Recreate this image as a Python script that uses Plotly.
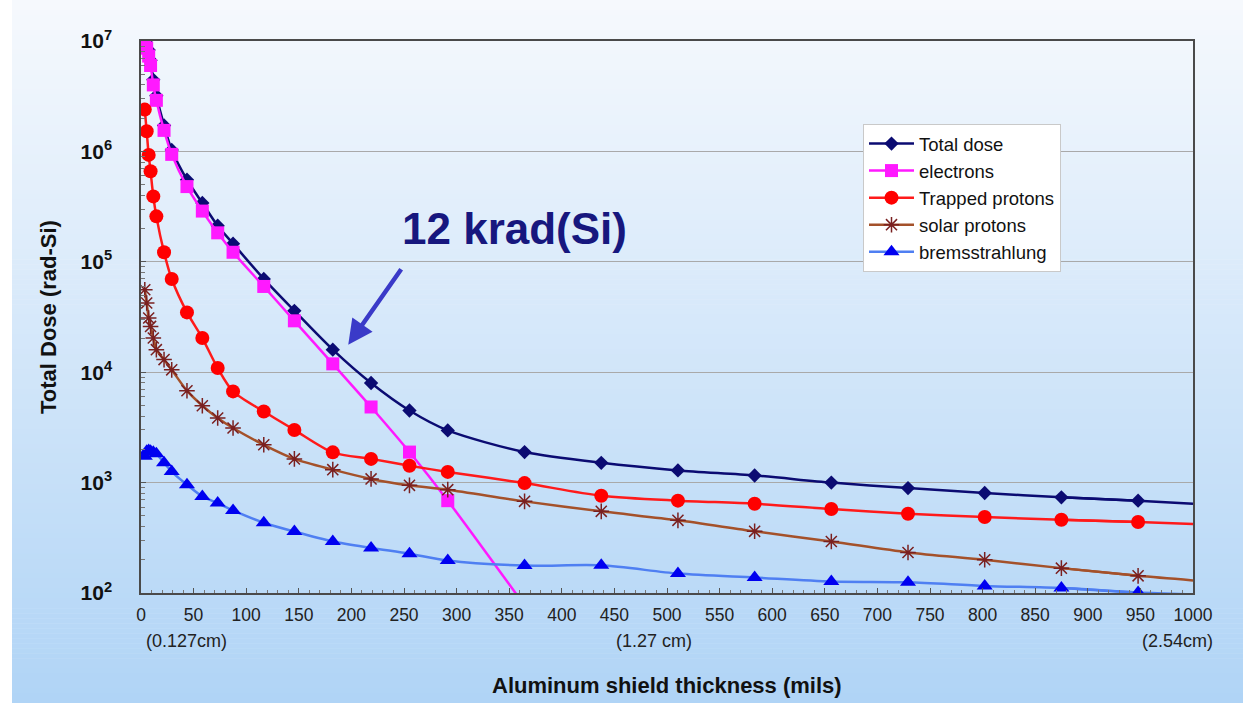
import plotly.graph_objects as go

# Shield thickness (mils of aluminium) at which each dose value is tabulated
x_mils = [3.6, 5.4, 7.3, 9.1, 11.7, 14.6, 21.9, 29.2, 43.7, 58.3, 72.9, 87.5,
          116.7, 145.8, 182.3, 218.7, 255.2, 291.6, 364.6, 437.5, 510.4, 583.3,
          656.2, 729.1, 802.0, 874.9, 947.8]
x_end = 1000.0

# Dose (rad-Si) per source
total_dose = [1.3e7, 1.02e7, 8.3e6, 6.7e6, 4.45e6, 3.2e6, 1.72e6, 1.03e6, 5.54e5,
              3.41e5, 2.12e5, 1.46e5, 7.0e4, 3.6e4, 1.6e4, 7.98e3, 4.5e3, 2.97e3,
              1.89e3, 1.51e3, 1.29e3, 1.16e3, 1.0e3, 893, 805, 735, 686]
total_dose_end = 644

electrons = [1.05e7, 8.6e6, 7.3e6, 6.0e6, 4.0e6, 2.9e6, 1.55e6, 9.4e5, 4.8e5,
             2.88e5, 1.83e5, 1.22e5, 5.98e4, 2.92e4, 1.19e4, 4.84e3, 1.89e3, 686, 77]

trapped_protons = [2.39e6, 1.52e6, 9.3e5, 6.6e5, 3.91e5, 2.58e5, 1.22e5, 6.98e4,
                   3.48e4, 2.04e4, 1.09e4, 6.7e3, 4.4e3, 3.0e3, 1.88e3, 1.64e3,
                   1.42e3, 1.25e3, 990, 760, 686, 644, 577, 522, 488, 461, 440]
trapped_protons_end = 422

solar_protons = [5.59e4, 4.24e4, 3.1e4, 2.6e4, 2.04e4, 1.6e4, 1.3e4, 1.05e4, 6.8e3,
                 4.97e3, 3.85e3, 3.12e3, 2.2e3, 1.64e3, 1.31e3, 1.08e3, 944, 863,
                 676, 549, 455, 362, 293, 233, 200, 168, 143]
solar_protons_end = 130

bremsstrahlung = [1.73e3, 1.92e3, 1.95e3, 1.92e3, 1.88e3, 1.83e3, 1.51e3, 1.26e3,
                  957, 750, 653, 560, 433, 360, 293, 256, 227, 197, 177, 178, 150,
                  138, 127, 125, 116, 111, 101]
bremsstrahlung_end = 97

y_tick_vals = [1e2, 1e3, 1e4, 1e5, 1e6, 1e7]
y_tick_text = ["<b>10<sup>2</sup></b>", "<b>10<sup>3</sup></b>", "<b>10<sup>4</sup></b>",
               "<b>10<sup>5</sup></b>", "<b>10<sup>6</sup></b>", "<b>10<sup>7</sup></b>"]
x_tick_vals = list(range(0, 1001, 50))
cm_labels = [("(0.127cm)", 43.7), ("(1.27 cm)", 488.0), ("(2.54cm)", 985.0)]

FONT = "Arial, Liberation Sans, sans-serif"
NARROW = "Liberation Sans Narrow, Arial Narrow, Liberation Sans, Arial, sans-serif"

W, H = 1254, 703
M_L, M_R, M_T, M_B = 141, 61, 41, 110
PW, PH = W - M_L - M_R, H - M_T - M_B


def px_to_paper_x(px):
    return (px - M_L) / PW


def px_to_paper_y(py):
    return (H - M_B - py) / PH


series = [
    ("Total dose", x_mils, total_dose, total_dose_end,
     dict(color="#0b0b72", width=2.5), dict(symbol="diamond", size=11, color="#0b0b72")),
    ("electrons", x_mils[:len(electrons)], electrons, None,
     dict(color="#ff19ff", width=2.5), dict(symbol="square", size=13, color="#ff19ff")),
    ("Trapped protons", x_mils, trapped_protons, trapped_protons_end,
     dict(color="#ff1a1a", width=2.5), dict(symbol="circle", size=14, color="#ff0000")),
    ("solar protons", x_mils, solar_protons, solar_protons_end,
     dict(color="#a4512a", width=2.5),
     dict(symbol="asterisk-open", size=13, color="#7a2020", line=dict(color="#7a2020", width=1.5))),
    ("bremsstrahlung", x_mils, bremsstrahlung, bremsstrahlung_end,
     dict(color="#4f7ff2", width=2.5), dict(symbol="triangle-up", size=14, color="#0000f0")),
]

fig = go.Figure()

for i, (name, xs, ys, y_end, line, marker) in enumerate(series):
    if y_end is not None:
        # line continues to the right edge of the axis without a marker
        fig.add_trace(go.Scatter(
            x=[xs[-2], xs[-1], x_end], y=[ys[-2], ys[-1], y_end], mode="lines",
            line=dict(shape="spline", smoothing=0.8, **line),
            showlegend=False, hoverinfo="skip"))
    fig.add_trace(go.Scatter(
        x=xs, y=ys, mode="lines+markers", name=name, legendgroup=f"g{i}",
        line=dict(shape="spline", smoothing=0.8, **line), marker=marker))

# Slide background: vertical gradient from near white to light blue
top_rgb = (246, 249, 253)
bot_rgb = (176, 212, 246)
n_bands = 141
band = H / n_bands
shapes = []
for k in range(n_bands):
    t = k / (n_bands - 1)
    c = tuple(round(a + (b - a) * t) for a, b in zip(top_rgb, bot_rgb))
    y0 = k * band
    y1 = (k + 1) * band + 0.6
    shapes.append(dict(
        type="rect", xref="paper", yref="paper", layer="below",
        x0=px_to_paper_x(12), x1=px_to_paper_x(1243),
        y0=px_to_paper_y(y1), y1=px_to_paper_y(y0),
        line=dict(width=0), fillcolor=f"rgb{c}"))

annotations = [
    dict(text="<b>12 krad(Si)</b>", xref="paper", yref="paper",
         x=px_to_paper_x(514), y=px_to_paper_y(229), showarrow=False,
         xanchor="center", yanchor="middle",
         font=dict(family=FONT, size=44, color="#17177e")),
    dict(text="", x=197, y=4.248, xref="x", yref="y", ax=54, ay=-77,
         showarrow=True, arrowhead=2, arrowsize=1.1, arrowwidth=4.5,
         arrowcolor="#3a3ac8"),
    dict(text="<b>Aluminum shield thickness (mils)</b>", xref="paper", yref="paper",
         x=0.5, y=px_to_paper_y(685), showarrow=False,
         xanchor="center", yanchor="middle",
         font=dict(family=FONT, size=22, color="#111111")),
    dict(text="<b>Total Dose (rad-Si)</b>", xref="paper", yref="paper",
         x=px_to_paper_x(48), y=0.5, showarrow=False, textangle=-90,
         xanchor="center", yanchor="middle",
         font=dict(family=FONT, size=22, color="#111111")),
]
for label, xm in cm_labels:
    annotations.append(dict(
        text=label, xref="x", yref="paper", x=xm, y=px_to_paper_y(641),
        xanchor="center", yanchor="middle",
        showarrow=False, font=dict(family=NARROW, size=18, color="#222222")))

fig.update_layout(
    width=W, height=H,
    margin=dict(l=M_L, r=M_R, t=M_T, b=M_B),
    paper_bgcolor="white",
    plot_bgcolor="rgba(0,0,0,0)",
    shapes=shapes,
    annotations=annotations,
    showlegend=True,
    legend=dict(
        x=px_to_paper_x(863), y=px_to_paper_y(124), xanchor="left", yanchor="top",
        bgcolor="white", bordercolor="#c9c9c9", borderwidth=1,
        font=dict(family=FONT, size=18.5, color="#111111"),
        tracegroupgap=5, traceorder="normal", itemwidth=45),
    xaxis=dict(
        range=[0, x_end], tickvals=x_tick_vals, ticks="inside", ticklen=5,
        tickcolor="#555555", showline=True, linecolor="#4a4a4a", linewidth=1.5,
        mirror=True, showgrid=False, zeroline=False,
        tickfont=dict(family=NARROW, size=17.5, color="#222222"),
        ticklabelstandoff=5,
        minor=dict(dtick=10, ticks="inside", ticklen=3, tickcolor="#777777", showgrid=False)),
    yaxis=dict(
        type="log", range=[2, 7], tickvals=y_tick_vals, ticktext=y_tick_text,
        ticks="inside", ticklen=5, tickcolor="#555555",
        showline=True, linecolor="#4a4a4a", linewidth=1.5, mirror=True,
        showgrid=True, gridcolor="#a9a9a9", gridwidth=1, zeroline=False,
        tickfont=dict(family=FONT, size=21, color="#111111"),
        ticklabelstandoff=23,
        minor=dict(dtick="D1", ticks="inside", ticklen=4, tickcolor="#777777", showgrid=False)),
)

fig.write_html("out.html")
